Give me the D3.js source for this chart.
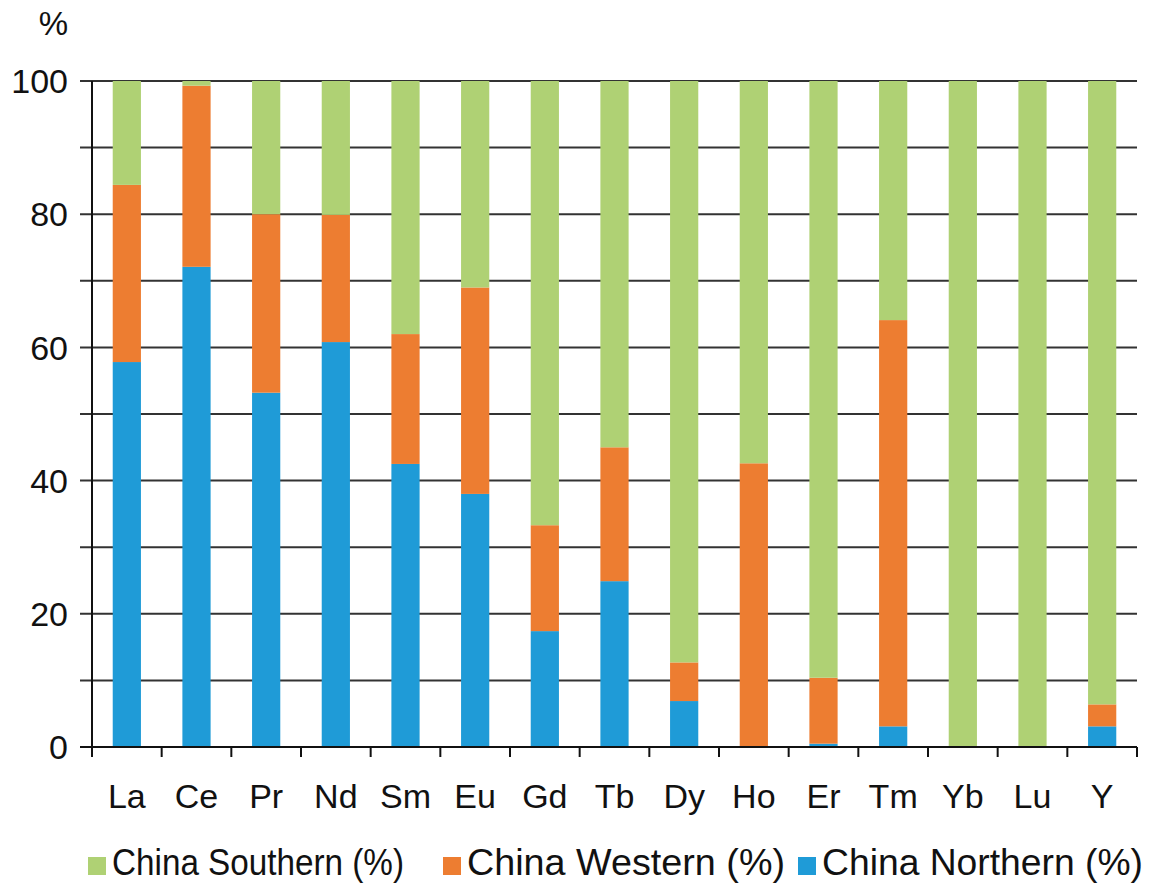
<!DOCTYPE html>
<html>
<head>
<meta charset="utf-8">
<script src="https://cdn.jsdelivr.net/npm/d3@7"></script>
<style>
  html, body { margin: 0; padding: 0; background: #fff; }
  svg { display: block; font-family: "Liberation Sans", Arial, sans-serif; }
</style>
</head>
<body>
<svg id="chart" width="1151" height="886"></svg>
<script>
const categories = ["La","Ce","Pr","Nd","Sm","Eu","Gd","Tb","Dy","Ho","Er","Tm","Yb","Lu","Y"];
const northern = [57.8, 72.1, 53.2, 60.8, 42.5, 38.0, 17.4, 24.9, 6.9, 0, 0.5, 3.1, 0, 0, 3.1];
const western  = [26.6, 27.2, 26.8, 19.1, 19.5, 31.0, 15.9, 20.1, 5.8, 42.6, 9.9, 61.0, 0, 0, 3.3];
const southern = categories.map((c, i) => +(100 - northern[i] - western[i]).toFixed(1));
const seriesNames = ["China Northern (%)", "China Western (%)", "China Southern (%)"];
const legendOrder = ["China Southern (%)", "China Western (%)", "China Northern (%)"];
const yTicks = [0, 20, 40, 60, 80, 100];
const gridTicks = [0, 10, 20, 30, 40, 50, 60, 70, 80, 90, 100];

const colors = {
  "China Northern (%)": "#1f9bd7",
  "China Western (%)": "#ed7d31",
  "China Southern (%)": "#afd174"
};

const rows = categories.map((c, i) => ({
  cat: c,
  "China Northern (%)": northern[i],
  "China Western (%)": western[i],
  "China Southern (%)": southern[i]
}));

const svg = d3.select("#chart");
const mLeft = 92, mRight = 1137, mTop = 81, mBottom = 747;

const x = d3.scaleBand().domain(categories).range([mLeft, mRight]).paddingInner(0.595).paddingOuter(0.2975);
const y = d3.scaleLinear().domain([0, 100]).range([mBottom, mTop]);

// gridlines
svg.append("g").selectAll("line").data(gridTicks).join("line")
  .attr("x1", 80).attr("x2", mRight)
  .attr("y1", d => y(d)).attr("y2", d => y(d))
  .attr("stroke", "#333").attr("stroke-width", 2);

// bars
const stack = d3.stack().keys(seriesNames)(rows);
svg.append("g").selectAll("g").data(stack).join("g")
  .attr("fill", d => colors[d.key])
  .selectAll("rect").data(d => d).join("rect")
  .attr("x", d => x(d.data.cat))
  .attr("width", x.bandwidth())
  .attr("y", d => y(d[1]))
  .attr("height", d => Math.max(0, y(d[0]) - y(d[1])));

// y axis line
svg.append("line").attr("x1", mLeft).attr("x2", mLeft).attr("y1", mTop).attr("y2", mBottom)
  .attr("stroke", "#111").attr("stroke-width", 2);
// bottom axis line
svg.append("line").attr("x1", 80).attr("x2", mRight).attr("y1", mBottom).attr("y2", mBottom)
  .attr("stroke", "#111").attr("stroke-width", 2);

// x category boundary ticks
const boundaries = d3.range(categories.length + 1).map(i => mLeft + i * (mRight - mLeft) / categories.length);
svg.append("g").selectAll("line").data(boundaries).join("line")
  .attr("x1", d => d).attr("x2", d => d)
  .attr("y1", mBottom).attr("y2", mBottom + 10)
  .attr("stroke", "#111").attr("stroke-width", 2);

// y tick labels
svg.append("g").selectAll("text").data(yTicks).join("text")
  .attr("x", 68).attr("y", d => y(d))
  .attr("dy", "0.36em")
  .attr("text-anchor", "end")
  .attr("font-size", 34)
  .attr("fill", "#111")
  .text(d => d);

// % label
svg.append("text").attr("x", 68).attr("y", 35).attr("text-anchor", "end")
  .attr("font-size", 33).attr("fill", "#111").text("%");

// x labels
svg.append("g").selectAll("text").data(categories).join("text")
  .attr("x", d => x(d) + x.bandwidth() / 2)
  .attr("y", 808)
  .attr("text-anchor", "middle")
  .attr("font-size", 34)
  .attr("fill", "#111")
  .text(d => d);

// legend
const legendX = [88, 443, 798];
const legendTextLen = [292, 318, 321];
const legend = svg.append("g").selectAll("g").data(legendOrder).join("g")
  .attr("transform", (d, i) => `translate(${legendX[i]},0)`);
legend.append("rect").attr("x", 0).attr("y", 857).attr("width", 18).attr("height", 18)
  .attr("fill", d => colors[d]);
legend.append("text").attr("x", 24).attr("y", 875)
  .attr("font-size", 36).attr("fill", "#111")
  .attr("textLength", (d, i) => legendTextLen[i])
  .attr("lengthAdjust", "spacingAndGlyphs")
  .text(d => d);
</script>
</body>
</html>
